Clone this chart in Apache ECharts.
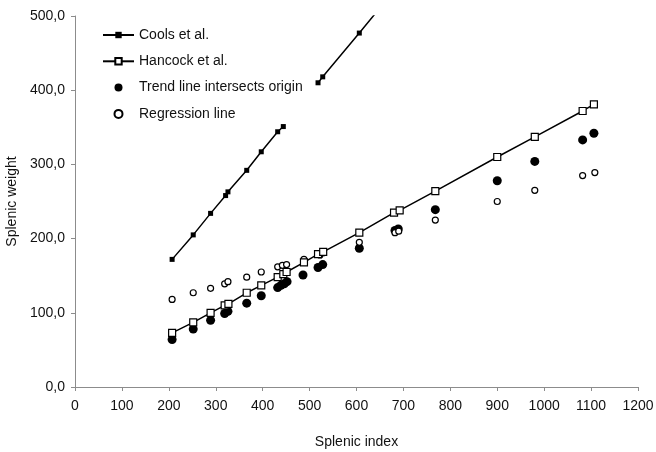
<!DOCTYPE html>
<html>
<head>
<meta charset="utf-8">
<script src="https://cdn.jsdelivr.net/npm/echarts@6/dist/echarts.min.js"></script>
<style>
  html, body { margin: 0; padding: 0; background: #fff; }
  #chart { width: 656px; height: 452px; }
</style>
</head>
<body>
<div id="chart"></div>
<script>
// values
const coolsX = [207, 252, 289, 321, 326, 366, 397, 432, 444, 487, 518, 528, 606, 681];
const coolsY = [172, 205, 234, 258, 263, 292, 317, 344, 351, '-', 410, 418, 477, 535];

const hancockX = [207, 252, 289, 319, 327, 366, 397, 432, 444, 451, 488, 518, 529, 606, 680, 692, 768, 900, 980, 1082, 1106];
const hancockY = [73, 87, 100, 110, 112, 127, 137, 148, 152, 155, 168, 179, 182, 208, 235, 238, 264, 310, 337, 372, 381];

const trendX = [207, 252, 289, 319, 326, 366, 397, 432, 439, 446, 452, 486, 518, 528, 606, 682, 689, 768, 900, 980, 1082, 1106];
const trendY = [64, 78, 90, 99, 102, 113, 123, 134, 137, 139, 142, 151, 161, 165, 187, 211, 213, 239, 278, 304, 333, 342];

const regressionX = [207, 252, 289, 319, 326, 366, 397, 432, 442, 451, 488, 522, 529, 606, 682, 690, 768, 900, 980, 1082, 1108];
const regressionY = [118, 127, 133, 139, 142, 148, 155, 162, 164, 165, 172, 178, 181, 195, 208, 210, 225, 250, 265, 285, 289];

const seriesNames = ['Cools et al.', 'Hancock et al.', 'Trend line intersects origin', 'Regression line'];

const pairs = (xs, ys) => xs.map((x, i) => [x, ys[i]]);

const font = 'Liberation Sans, Arial, sans-serif';
const axisGrey = '#8c8c8c';

const chart = echarts.init(document.getElementById('chart'), null, { renderer: 'canvas' });
chart.setOption({
  animation: false,
  backgroundColor: '#fff',
  textStyle: { fontFamily: font },
  grid: { left: 75, right: 18, top: 16, bottom: 65, containLabel: false, outerBoundsMode: 'none' },
  legend: {
    orient: 'vertical',
    left: 102,
    top: 28,
    padding: 0,
    itemWidth: 31,
    itemHeight: 8,
    itemGap: 12.3,
    textStyle: { fontFamily: font, fontSize: 14, color: '#111' },
    data: seriesNames
  },
  xAxis: {
    type: 'value',
    min: 0,
    max: 1200,
    interval: 100,
    name: 'Splenic index',
    nameLocation: 'middle',
    nameGap: 48,
    nameTextStyle: { fontFamily: font, fontSize: 14, color: '#111' },
    axisLine: { lineStyle: { color: axisGrey, width: 1 } },
    axisTick: { show: true, length: 4, lineStyle: { color: axisGrey } },
    axisLabel: { margin: 12, fontSize: 14, color: '#111', fontFamily: font, formatter: v => String(v) },
    splitLine: { show: false }
  },
  yAxis: {
    type: 'value',
    min: 0,
    max: 500,
    interval: 100,
    name: 'Splenic weight',
    nameLocation: 'middle',
    nameGap: 55,
    nameTextStyle: { fontFamily: font, fontSize: 14, color: '#111' },
    axisLine: { show: true, lineStyle: { color: axisGrey, width: 1 } },
    axisTick: { show: true, length: 4, lineStyle: { color: axisGrey } },
    axisLabel: {
      margin: 10, fontSize: 14, color: '#111', fontFamily: font,
      formatter: v => v.toFixed(1).replace('.', ',')
    },
    splitLine: { show: false }
  },
  series: [
    {
      name: seriesNames[0],
      type: 'line',
      data: pairs(coolsX, coolsY),
      connectNulls: false,
      clip: true,
      symbol: 'rect',
      symbolSize: 5,
      itemStyle: { color: '#000', opacity: 1 },
      lineStyle: { color: '#000', width: 1.5 }
    },
    {
      name: seriesNames[1],
      type: 'line',
      data: pairs(hancockX, hancockY),
      clip: true,
      symbol: 'rect',
      symbolSize: 7,
      showAllSymbol: true,
      itemStyle: { color: '#fff', borderColor: '#000', borderWidth: 1.2, opacity: 1 },
      lineStyle: { color: '#000', width: 1.5 }
    },
    {
      name: seriesNames[2],
      type: 'scatter',
      data: pairs(trendX, trendY),
      symbol: 'circle',
      symbolSize: 9,
      itemStyle: { color: '#000', opacity: 1 }
    },
    {
      name: seriesNames[3],
      type: 'scatter',
      data: pairs(regressionX, regressionY),
      symbol: 'circle',
      symbolSize: 6,
      itemStyle: { color: '#fff', borderColor: '#000', borderWidth: 1.2, opacity: 1 }
    }
  ]
});
</script>
</body>
</html>
